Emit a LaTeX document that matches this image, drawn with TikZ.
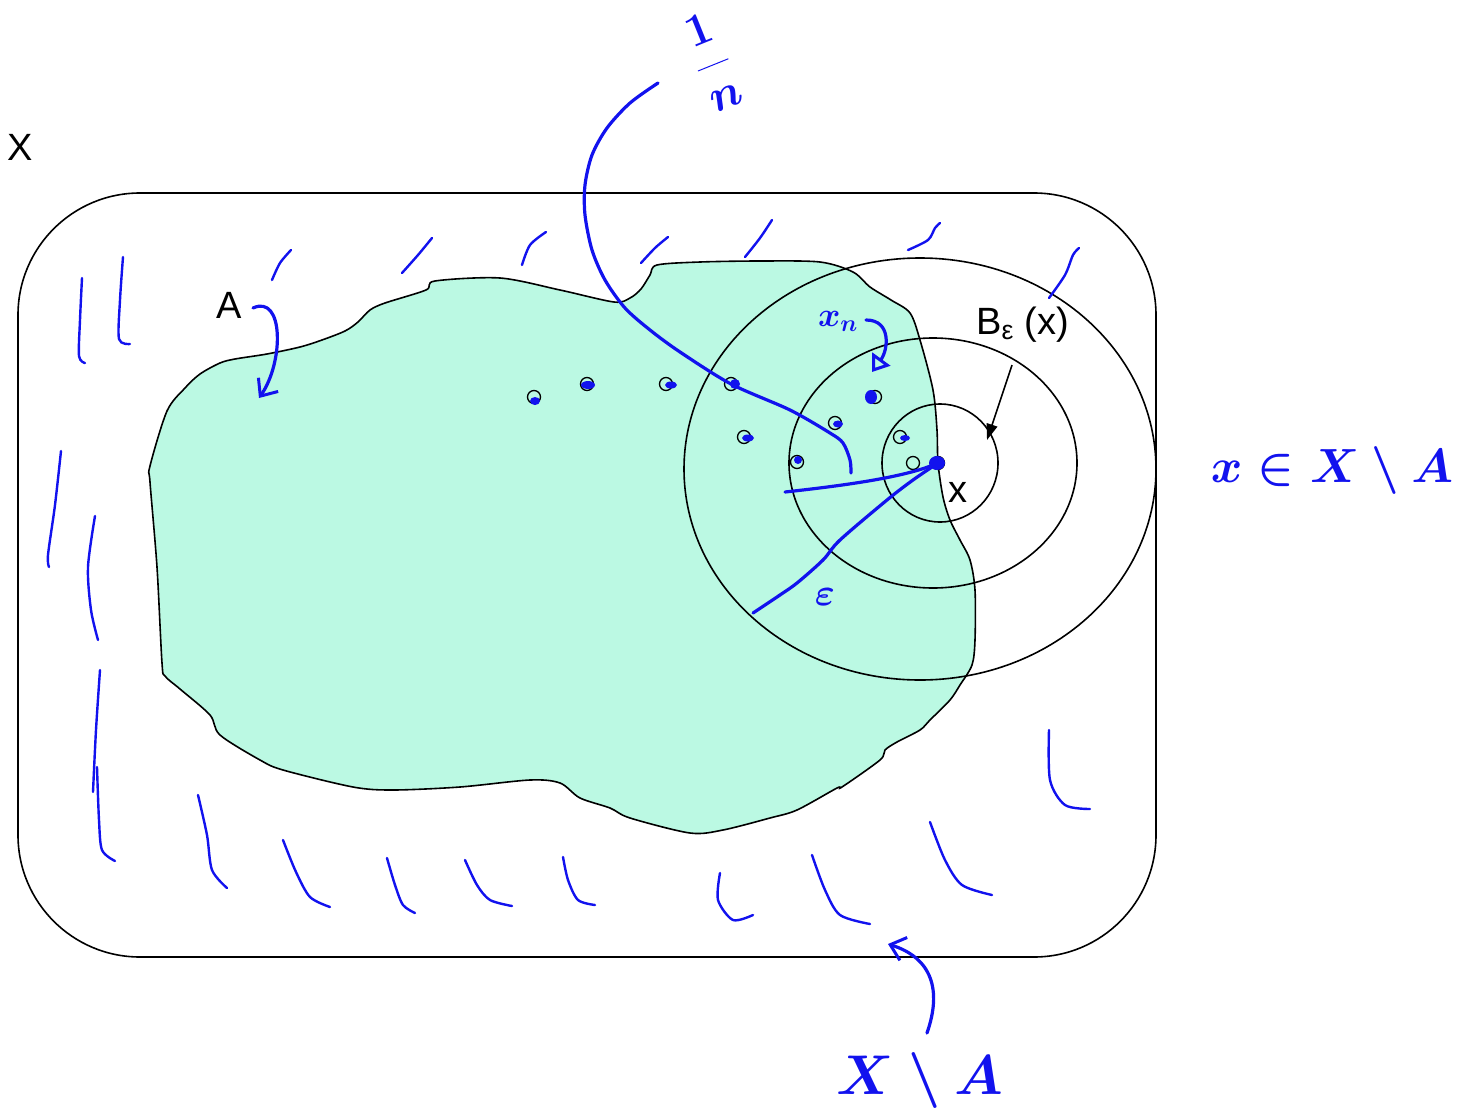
\RequirePackage{fix-cm}
\documentclass[tikz,border=0pt]{standalone}
\usepackage{fontspec}
\setmainfont{Liberation Sans}
\usepackage{amsmath}
\usetikzlibrary{arrows.meta}
\definecolor{setcolor}{RGB}{187,249,227}
\definecolor{inkblue}{RGB}{18,18,238}

\begin{document}
\begin{tikzpicture}[
    x=1pt, y=-1pt,
    outline/.style={draw=black, line width=1.6pt},
    ink/.style={draw=inkblue, line width=3.2pt, line cap=round, line join=round},
    hatch/.style={draw=inkblue, line width=2.4pt, line cap=round},
    seqpt/.style={circle, draw, line width=1.3pt, minimum size=13pt, inner sep=0pt},
    lbl/.style={font=\fontsize{38}{40}\selectfont, inner sep=0pt},
    note/.style={text=inkblue, inner sep=0pt},
    barb/.style={-{Straight Barb[length=14pt, width=24pt, line width=3pt]}}
]
    \useasboundingbox (0,0) rectangle (1468,1114);

    % Set A
    \draw[outline, fill=setcolor] plot[smooth cycle, tension=0.5] coordinates {
        (167,411) (185,388) (200,374) (220,363) (235,359) (267,354) (300,347)
        (322,340) (345,331) (358,322) (370,310) (385,303) (426,290) (435,281)
        (500,278) (560,290) (614,302) (630,298) (641,289) (650,275) (657,265)
        (700,262) (760,261) (820,262) (853,272) (870,287) (891,300) (910,313)
        (920,340) (933,390) (937,430) (938,463) (943,497) (950,520) (960,540)
        (970,560) (975,590) (975,640) (972,665) (960,685) (950,700) (930,720)
        (920,730) (897,742) (885,750) (880,760) (842,787) (837,788) (797,810)
        (770,818) (723,830) (690,833) (630,818) (610,808) (580,798) (560,783)
        (530,780) (460,787) (393,790) (353,787) (283,770) (260,760) (220,735)
        (210,715) (180,689) (165,676) (162,663) (157,567) (150,482) (150,466)};

    % Balls around x
    \draw[outline] (920,469) ellipse [x radius=236pt, y radius=211pt];
    \draw[outline] (933,463) ellipse [x radius=144pt, y radius=125pt];
    \draw[outline] (940,463) ellipse [x radius=58pt, y radius=59pt];

    % Space X
    \draw[outline, rounded corners=122pt] (18,193) rectangle (1156,957);

    % Labels
    \node[lbl, anchor=base west] (spX) at (7,160) {X};
    \node[lbl, anchor=base west] (setA) at (216,318) {A};
    \node[lbl, anchor=base west] (ball) at (976,334) {B\textsubscript{ε} (x)};
    \node[lbl, anchor=base west] (ptx) at (948,502) {x};
    \coordinate (ballarr) at (1012,365);
    \coordinate (ballend) at (987,440);
    \draw[outline, -{Triangle[length=16pt, width=11pt]}] (ballarr) -- (ballend);

    % Hatching of X\A
    \draw[hatch] plot[smooth] coordinates {(272,280) (280,263) (291,250)};
    \draw[hatch] plot[smooth] coordinates {(402,273) (418,255) (432,238)};
    \draw[hatch] plot[smooth] coordinates {(522,265) (530,245) (546,232)};
    \draw[hatch] plot[smooth] coordinates {(641,263) (655,248) (668,237)};
    \draw[hatch] plot[smooth] coordinates {(745,257) (760,238) (772,220)};
    \draw[hatch] plot[smooth] coordinates {(908,250) (928,240) (935,228) (940,223)};
    \draw[hatch] plot[smooth] coordinates {(1049,298) (1065,275) (1073,255) (1079,248)};
    \draw[hatch] plot[smooth] coordinates {(82,278) (80,320) (79,356) (85,363)};
    \draw[hatch] plot[smooth] coordinates {(123,257) (120,300) (119,339) (130,344)};
    \draw[hatch] plot[smooth] coordinates {(61,451) (55,505) (48,555) (49,567)};
    \draw[hatch] plot[smooth] coordinates {(95,516) (88,567) (91,610) (98,640)};
    \draw[hatch] plot[smooth] coordinates {(100,670) (96,730) (93,792)};
    \draw[hatch] plot[smooth] coordinates {(97,767) (99,820) (102,850) (115,861)};
    \draw[hatch] plot[smooth] coordinates {(198,795) (207,835) (212,870) (227,888)};
    \draw[hatch] plot[smooth] coordinates {(283,840) (296,872) (310,897) (330,907)};
    \draw[hatch] plot[smooth] coordinates {(387,858) (395,885) (403,905) (415,913)};
    \draw[hatch] plot[smooth] coordinates {(465,860) (477,885) (490,900) (512,906)};
    \draw[hatch] plot[smooth] coordinates {(563,857) (568,880) (578,900) (595,905)};
    \draw[hatch] plot[smooth] coordinates {(720,873) (718,900) (733,920) (753,915)};
    \draw[hatch] plot[smooth] coordinates {(812,855) (825,890) (840,915) (870,924)};
    \draw[hatch] plot[smooth] coordinates {(930,822) (945,860) (962,885) (992,895)};
    \draw[hatch] plot[smooth] coordinates {(1049,730) (1050,780) (1065,805) (1090,809)};

    % Sequence points
    \node[seqpt] (p1) at (534,397) {};
    \node[seqpt] (p2) at (587,384) {};
    \node[seqpt] (p3) at (666,384) {};
    \node[seqpt] (p4) at (731,384) {};
    \node[seqpt] (p5) at (744,437) {};
    \node[seqpt] (p6) at (797,462) {};
    \node[seqpt] (p7) at (835,423) {};
    \node[seqpt] (p8) at (875,397) {};
    \node[seqpt] (p9) at (900,437) {};
    \node[seqpt] (p10) at (913,463) {};
    \node[seqpt] (x) at (938,463) {};

    % Blue annotations
    \node[note, font=\fontsize{46}{48}\selectfont\boldmath, rotate=22] (ninv) at (712,62) {$\dfrac{1}{n}$};
    \node[note, font=\fontsize{48}{50}\selectfont\boldmath] (xnotA) at (1332,470) {$x\in X\setminus A$};
    \node[note, font=\fontsize{56}{58}\selectfont\boldmath] (compA) at (920,1080) {$X\setminus A$};
    \node[note, font=\fontsize{38}{40}\selectfont\boldmath] (eps) at (825,597) {$\varepsilon$};
    \node[note, font=\fontsize{34}{36}\selectfont\boldmath] (xn) at (838,321) {$x_n$};

    \draw[ink] plot[smooth] coordinates {(658,83) (630,103) (607,128) (592,155)
        (585,185) (585,215) (592,250) (605,280) (625,308) (650,330) (680,352)
        (p4) (790,410) (830,433) (843,443) (850,460) (851,473)};
    \draw[ink] (785,492) .. controls (840,486) and (900,478) .. (x);
    \draw[ink] plot[smooth] coordinates {(x) (913,480) (887,500) (840,540)
        (823,560) (797,583) (777,597) (753,613)};
    \draw[ink, -{Triangle[open, length=16pt, width=22pt, line width=3pt]}]
        (866,320) .. controls (892,320) and (888,350) .. (872,372);
    \draw[ink, barb] (253,308) .. controls (284,294) and (284,362) .. (259,398);
    \draw[ink, barb] (927,1033) .. controls (942,990) and (932,958) .. (888,944);

    % Blobs on the points
    \fill[inkblue] (535,401) ellipse [x radius=5pt, y radius=4pt];
    \fill[inkblue] (588,385) ellipse [x radius=7pt, y radius=4pt];
    \fill[inkblue] (671,385) ellipse [x radius=6pt, y radius=3.5pt];
    \fill[inkblue] (735,384) ellipse [x radius=5pt, y radius=5pt];
    \fill[inkblue] (748,438) ellipse [x radius=6pt, y radius=3.5pt];
    \fill[inkblue] (798,460) ellipse [x radius=4pt, y radius=4pt];
    \fill[inkblue] (838,424) ellipse [x radius=5pt, y radius=3.5pt];
    \fill[inkblue] (871,397) ellipse [x radius=6pt, y radius=7pt];
    \fill[inkblue] (905,438) ellipse [x radius=5pt, y radius=3pt];
    \fill[inkblue] (937,463) ellipse [x radius=8pt, y radius=7pt];
\end{tikzpicture}
\end{document}
